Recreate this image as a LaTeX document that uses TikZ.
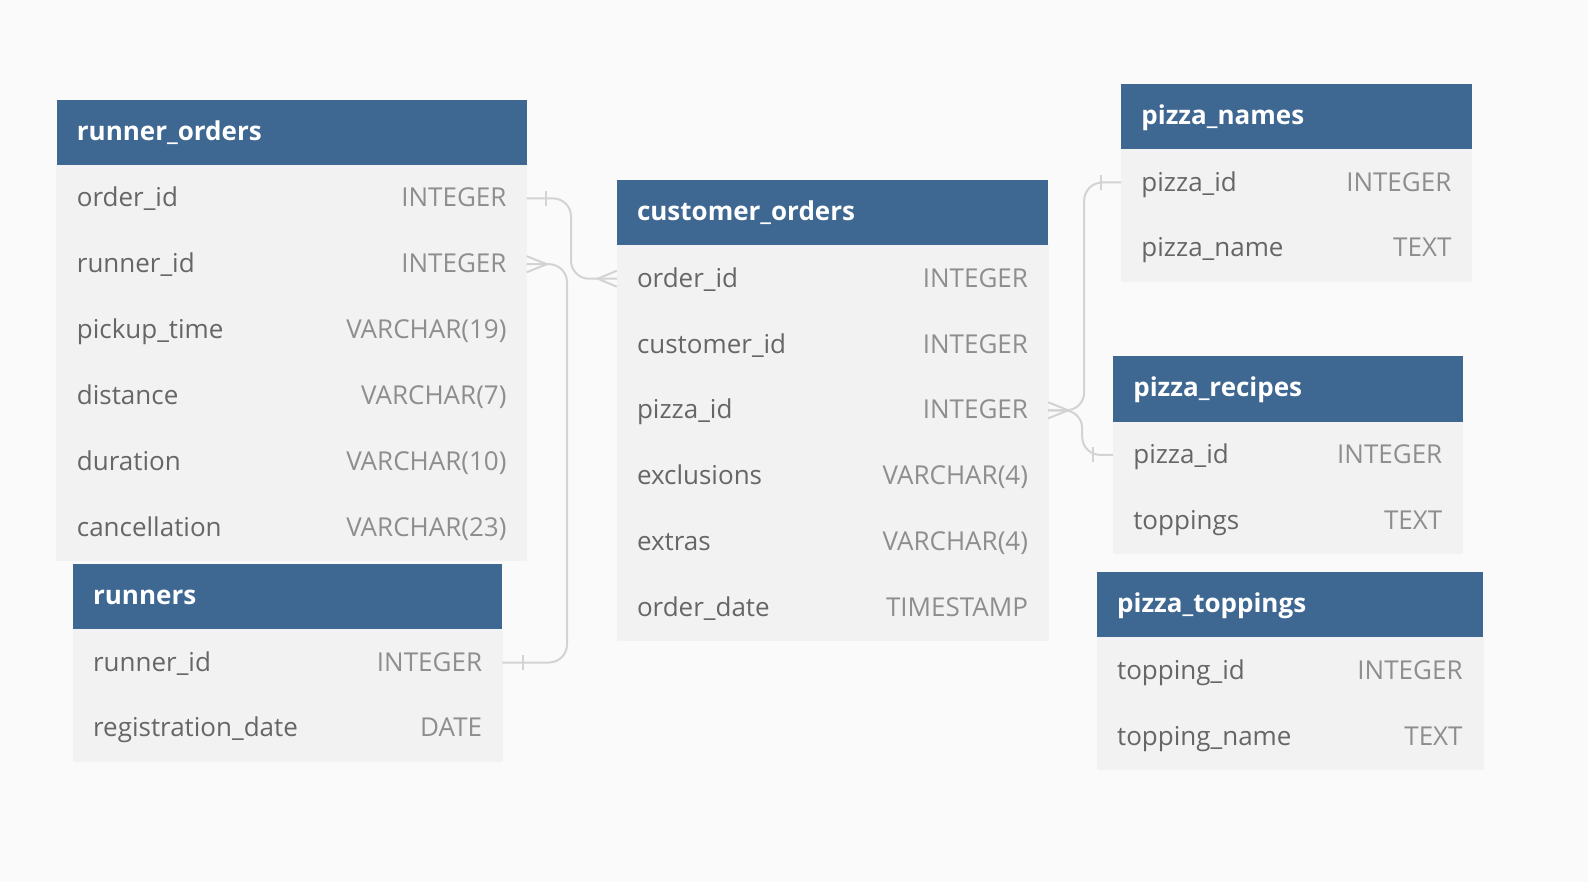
\documentclass[tikz,border=0pt]{standalone}
\usepackage{fontspec}
\setmainfont{Open Sans}
\definecolor{bg}{HTML}{FAFAFA}
\definecolor{hdr}{HTML}{3E6791}
\definecolor{bodycol}{HTML}{F2F2F2}
\definecolor{namecol}{HTML}{666666}
\definecolor{typecol}{HTML}{8E8E8E}
\definecolor{conncol}{HTML}{D3D3D3}
\tikzset{
  hdrbox/.style={fill=hdr, inner sep=0pt, outer sep=0pt, minimum height=65.5pt},
  rowbox/.style={fill=bodycol, draw=bodycol, line width=0.6pt, inner sep=0pt, outer sep=0pt, minimum height=65.8pt},
  hdrtext/.style={text=white, inner sep=0pt, font=\fontsize{26}{30}\selectfont\bfseries},
  nametext/.style={text=namecol, inner sep=0pt, font=\fontsize{26}{30}\selectfont},
  typetext/.style={text=typecol, inner sep=0pt, font=\fontsize{26}{30}\selectfont},
  conn/.style={draw=conncol, line width=2pt, rounded corners=18pt},
  relmark/.style={draw=conncol, line width=2pt},
}
\newcommand{\dbtable}[6]{%
  \pgfmathsetmacro\tw{#3-#2}%
  \node[hdrbox, minimum width=\tw pt, anchor=north west] (#1) at (#2,#4) {};
  \node[hdrtext, anchor=base west] (#1-title) at ({#2+20},{#4+40.5}) {#5};
  \foreach \nm/\ty [count=\i] in {#6} {
    \node[rowbox, minimum width=\tw pt, anchor=north west] (#1-r\i) at ({#2},{#4+65.5+(\i-1)*65.8}) {};
    \node[nametext, anchor=base west] (#1-n\i) at ({#2+20},{#4+65.5+(\i-1)*65.8+41.5}) {\nm};
    \node[typetext, anchor=base east] (#1-t\i) at ({#3-20},{#4+65.5+(\i-1)*65.8+41.5}) {\ty};
  }
}
\begin{document}
\begin{tikzpicture}[x=1pt,y=-1pt]
\fill[bg] (0,0) rectangle (1588,882);
\useasboundingbox (0,0) rectangle (1588,882);

\dbtable{ro}{56.7}{526.7}{100}{runner\_orders}{order\_id/INTEGER, runner\_id/INTEGER, pickup\_time/VARCHAR(19), distance/VARCHAR(7), duration/VARCHAR(10), cancellation/VARCHAR(23)}
\dbtable{ru}{72.9}{502.3}{564.1}{runners}{runner\_id/INTEGER, registration\_date/DATE}
\dbtable{co}{616.8}{1048.2}{180.3}{customer\_orders}{order\_id/INTEGER, customer\_id/INTEGER, pizza\_id/INTEGER, exclusions/VARCHAR(4), extras/VARCHAR(4), order\_date/TIMESTAMP}
\dbtable{pn}{1121.2}{1471.6}{84.1}{pizza\_names}{pizza\_id/INTEGER, pizza\_name/TEXT}
\dbtable{pr}{1113.1}{1462.5}{356.5}{pizza\_recipes}{pizza\_id/INTEGER, toppings/TEXT}
\dbtable{pt}{1096.9}{1482.8}{572.2}{pizza\_toppings}{topping\_id/INTEGER, topping\_name/TEXT}

% runner_orders.order_id -> customer_orders.order_id
\draw[conn] (ro-r1.east) -- ([xshift=44.3pt]ro-r1.east) |- (co-r1.west);
\draw[relmark] ([xshift=19.3pt]ro-r1.east) ++(0,-7.5) -- ++(0,15);
\draw[relmark] (co-r1.west) ++(0,-8) -- ++(-19,8) -- ++(19,8);

% runners.runner_id -> runner_orders.runner_id
\draw[conn] (ru-r1.east) -- ([xshift=64.7pt]ru-r1.east) |- (ro-r2.east);
\draw[relmark] ([xshift=20.4pt]ru-r1.east) ++(0,-7.5) -- ++(0,15);
\draw[relmark] (ro-r2.east) ++(0,-8) -- ++(20,8) -- ++(-20,8);

% customer_orders.pizza_id -> pizza_names.pizza_id / pizza_recipes.pizza_id
\draw[conn] (co-r3.east) -- ([xshift=36pt]co-r3.east) |- (pn-r1.west);
\draw[conn] (co-r3.east) -- ([xshift=34pt]co-r3.east) |- (pr-r1.west);
\draw[relmark] (co-r3.east) ++(0,-8) -- ++(20,8) -- ++(-20,8);
\draw[relmark] ([xshift=-20.5pt]pn-r1.west) ++(0,-7.5) -- ++(0,15);
\draw[relmark] ([xshift=-20.4pt]pr-r1.west) ++(0,-7.5) -- ++(0,15);
\end{tikzpicture}
\end{document}
